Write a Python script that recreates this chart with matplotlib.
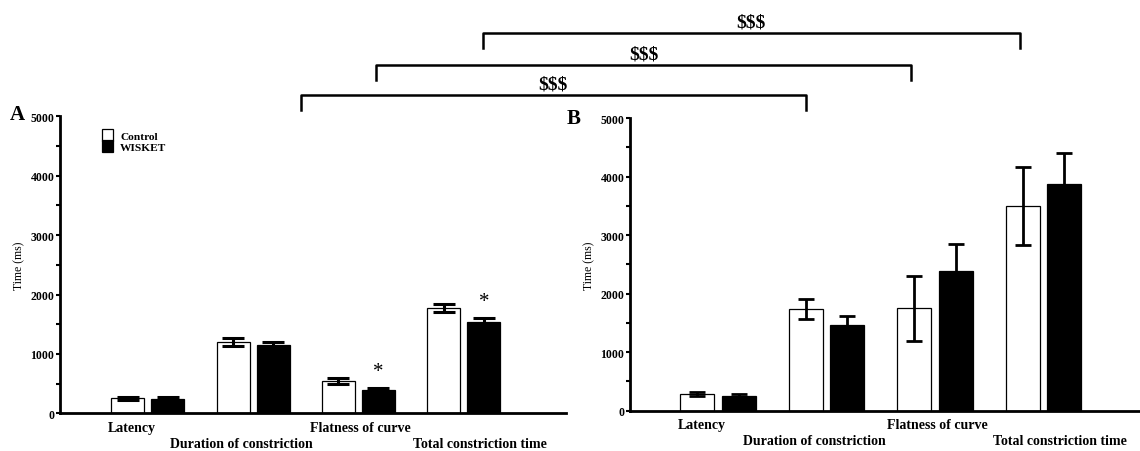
import numpy as np
import matplotlib
matplotlib.use("Agg")
import matplotlib.pyplot as plt
from matplotlib.lines import Line2D

plt.rcParams['font.family'] = ['Liberation Serif', 'DejaVu Serif']
plt.rcParams['font.weight'] = 'bold'

categories = ['Latency', 'Duration of constriction', 'Flatness of curve', 'Total constriction time']
series_names = ['Control', 'WISKET']

# panel A
control_a = [253, 1202, 551, 1770]
control_a_err = [25, 68, 50, 70]
wisket_a = [247, 1152, 399, 1545]
wisket_a_err = [20, 56, 34, 62]
stars_a = [False, False, True, True]  # significant vs control

# panel B
control_b = [281, 1736, 1753, 3500]
control_b_err = [30, 170, 556, 663]
wisket_b = [258, 1466, 2382, 3865]
wisket_b_err = [34, 152, 472, 534]

# "$$$" brackets: (group in A, shift in A, group in B, shift in B)
brackets = [(1, 0.45, 1, -0.19), (2, 0.17, 2, -0.22), (3, 0.18, 3, -0.22)]
bracket_label = '$$$'

W = 0.313
OFF = 0.19
label_shift = [-0.15, -0.11, 0.02, 0.15]


def panel(ax, ctrl, ctrl_err, wisk, wisk_err, capsize, elw, xlim):
    x = np.arange(len(categories))
    ax.bar(x - OFF, ctrl, W, color='white', edgecolor='black', linewidth=0.9,
           label=series_names[0], zorder=2)
    ax.bar(x + OFF, wisk, W, color='black', edgecolor='black', linewidth=0.9,
           label=series_names[1], zorder=2)
    ax.errorbar(x - OFF, ctrl, yerr=ctrl_err, fmt='none', ecolor='black',
                elinewidth=elw, capsize=capsize, capthick=elw, zorder=3)
    ax.errorbar(x + OFF, wisk, yerr=wisk_err, fmt='none', ecolor='black',
                elinewidth=elw, capsize=capsize, capthick=elw, zorder=3)
    ax.set_xlim(*xlim)
    ax.set_ylim(0, 5000)
    ax.set_yticks(np.arange(0, 5001, 1000))
    ax.set_yticks(np.arange(500, 5000, 1000), minor=True)
    ax.tick_params(axis='y', which='both', direction='out', length=3, width=1.5,
                   labelsize=8.5, pad=1)
    ax.tick_params(axis='x', length=0, labelbottom=False)
    for s in ['top', 'right']:
        ax.spines[s].set_visible(False)
    for s in ['left', 'bottom']:
        ax.spines[s].set_linewidth(2)
    ax.set_ylabel('Time (ms)', fontsize=8.5, labelpad=4)
    for i, name in enumerate(categories):
        dy = -10 if i % 2 == 0 else -21.5
        ax.annotate(name, xy=(x[i] + label_shift[i], 0),
                    xycoords=('data', 'axes fraction'), xytext=(0, dy),
                    textcoords='offset points', ha='center', va='center',
                    fontsize=10)
    return x


fig = plt.figure(figsize=(11.4, 4.52), dpi=100)
ax_a = fig.add_axes([0.0526, 0.0834, 0.4439, 0.657])
ax_b = fig.add_axes([0.5526, 0.0892, 0.4474, 0.6475])

xa = panel(ax_a, control_a, control_a_err, wisket_a, wisket_a_err, 8, 2.2, (-0.833, 3.97))
xb = panel(ax_b, control_b, control_b_err, wisket_b, wisket_b_err, 5.5, 2.0, (-0.812, 3.89))

for i, flag in enumerate(stars_a):
    if flag:
        ax_a.annotate('*', xy=(xa[i] + OFF, wisket_a[i] + wisket_a_err[i]),
                      xytext=(0, 5), textcoords='offset points',
                      ha='center', va='bottom', fontsize=15, fontweight='normal')

ax_a.legend(loc='upper left', bbox_to_anchor=(0.072, 0.975), frameon=False,
            fontsize=8.2, handlelength=1.0, handleheight=1.2, labelspacing=-0.1,
            borderpad=0, handletextpad=0.6)

fig.text(0.009, 0.745, 'A', fontsize=15, fontweight='bold', va='center')
fig.text(0.497, 0.737, 'B', fontsize=15, fontweight='bold', va='center')

# brackets across panels, heights in figure pixels from top
bracket_y = [96, 66, 34]
tip = 15
H = 452.0
to_fig = fig.transFigure.inverted()
for (ia, sa, ib, sb), yp in zip(brackets, bracket_y):
    x0 = to_fig.transform(ax_a.transData.transform((xa[ia] + sa, 0)))[0]
    x1 = to_fig.transform(ax_b.transData.transform((xb[ib] + sb, 0)))[0]
    y0 = 1 - yp / H
    y1 = 1 - (yp + tip) / H
    fig.add_artist(Line2D([x0, x0, x1, x1], [y1, y0, y0, y1], color='black',
                          linewidth=1.8, transform=fig.transFigure))
    fig.text((x0 + x1) / 2, y0 + 11 / H, bracket_label, ha='center', va='center',
             fontsize=14, fontweight='bold')

fig.savefig('out.png', dpi=100)
